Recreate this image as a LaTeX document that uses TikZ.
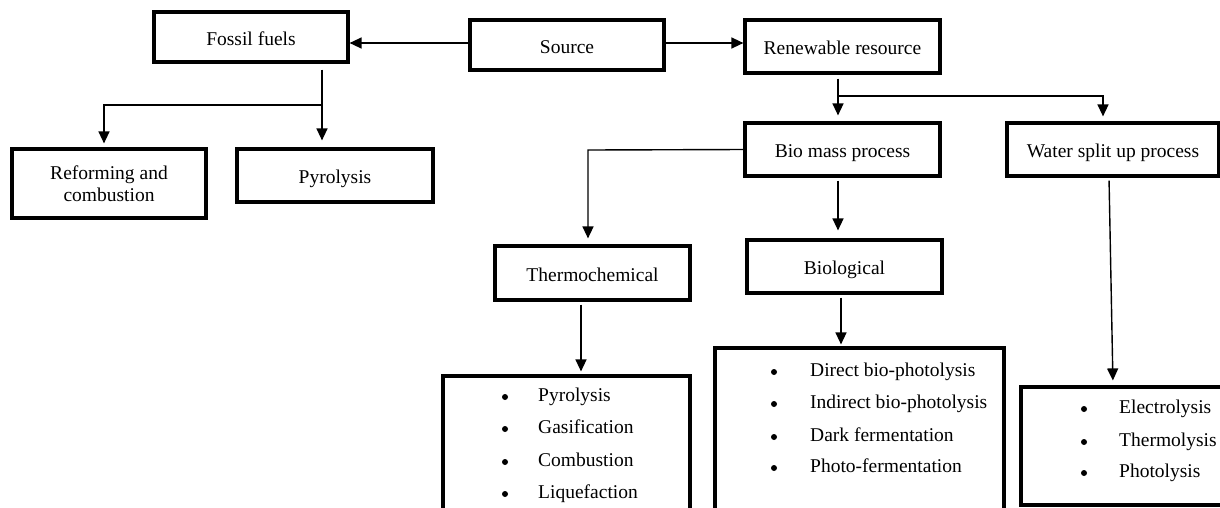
\documentclass[tikz,border=0pt]{standalone}
\usepackage{fontspec}
\setmainfont{Liberation Serif}
\usetikzlibrary{arrows.meta}
\begin{document}
\begin{tikzpicture}[x=1pt,y=-1pt,
  box/.style={draw=black,line width=3.2pt,rectangle,inner sep=0pt,align=center,
    font=\fontsize{19.5}{22}\selectfont},
  one/.style={text height=16pt,text depth=0pt},
  arr/.style={draw=black,line width=1.4pt,-{Triangle[length=12pt,width=11pt]}},
  item/.style={anchor=west,inner sep=0pt,text height=13pt,text depth=4pt,
    font=\fontsize{19.5}{22}\selectfont},
  dot/.style={fill=black}]
\useasboundingbox (0,0) rectangle (1220,507);
\clip (0,0) rectangle (1220,507);
% boxes
\node[box,one,minimum width=194pt,minimum height=50pt] (fossil) at (251,37) {Fossil fuels};
\node[box,one,minimum width=194pt,minimum height=50pt] (source) at (567,45) {Source};
\node[box,one,minimum width=195pt,minimum height=53pt] (renew) at (842.5,46.5) {Renewable resource};
\node[box,minimum width=194pt,minimum height=69pt] (reform) at (109,183.5) {Reforming and\\combustion};
\node[box,one,minimum width=196pt,minimum height=53pt] (pyro) at (335,175.5) {Pyrolysis};
\node[box,one,minimum width=195pt,minimum height=53pt] (biomass) at (842.5,149.5) {Bio mass process};
\node[box,one,minimum width=212pt,minimum height=53pt] (water) at (1113,149.5) {Water split up process};
\node[box,one,minimum width=195pt,minimum height=54pt] (thermo) at (592.5,273) {Thermochemical};
\node[box,one,minimum width=195pt,minimum height=53pt] (biol) at (844.5,266.5) {Biological};
\node[box,minimum width=247pt,minimum height=144pt] (tlist) at (566.5,448) {};
\node[box,minimum width=289pt,minimum height=172pt] (blist) at (859.5,434) {};
\node[box,minimum width=204pt,minimum height=118pt] (wlist) at (1123,446) {};
% list items
\foreach \t/\y [count=\i] in {Pyrolysis/397,Gasification/429,Combustion/462,Liquefaction/494}{
  \fill[dot] (505,\y) circle (3pt);
  \node[item] (t\i) at (538,\y) {\t};
}
\foreach \t/\y [count=\i] in {Direct bio-photolysis/372,Indirect bio-photolysis/404,Dark fermentation/437,Photo-fermentation/468}{
  \fill[dot] (774,\y) circle (3pt);
  \node[item] (b\i) at (810,\y) {\t};
}
\foreach \t/\y [count=\i] in {Electrolysis/409,Thermolysis/442,Photolysis/473}{
  \fill[dot] (1084,\y) circle (3pt);
  \node[item] (w\i) at (1119,\y) {\t};
}
% connectors
\draw[arr] ([yshift=2pt]source.west) coordinate (s1) -- (s1 -| fossil.east);
\draw[arr] ([yshift=2pt]source.east) coordinate (s2) -- (s2 -| renew.west);
\coordinate (fj) at (322,105);
\coordinate (rj) at (104,105);
\draw[arr,shorten <=6pt,shorten >=7pt] (fossil.south -| fj) -- (pyro.north -| fj);
\draw[arr,shorten >=4pt] (fj) -- (rj) -- (reform.north -| rj);
\coordinate (nj1) at (838,96);
\coordinate (nj2) at (1103,96);
\draw[arr,shorten <=4pt,shorten >=6pt] (renew.south -| nj1) -- (biomass.north -| nj1);
\draw[arr,shorten >=5pt] (nj1) -- (nj2) -- (water.north -| nj2);
\coordinate (tj) at (588,150);
\draw[arr,shorten >=6pt] (biomass.west) -- (tj) -- (thermo.north -| tj);
\coordinate (bx) at (838,0);
\draw[arr,shorten <=3pt,shorten >=8pt] (biomass.south -| bx) -- (biol.north -| bx);
\coordinate (tx) at (581,0);
\draw[arr,shorten <=3pt,shorten >=3pt] (thermo.south -| tx) -- (tlist.north -| tx);
\coordinate (blx) at (841,0);
\draw[arr,shorten <=3pt,shorten >=2pt] (biol.south -| blx) -- (blist.north -| blx);
\draw[arr,shorten <=3pt,shorten >=5pt] ([xshift=-4pt]water.south) -- ([xshift=-10pt]wlist.north);
\end{tikzpicture}
\end{document}
